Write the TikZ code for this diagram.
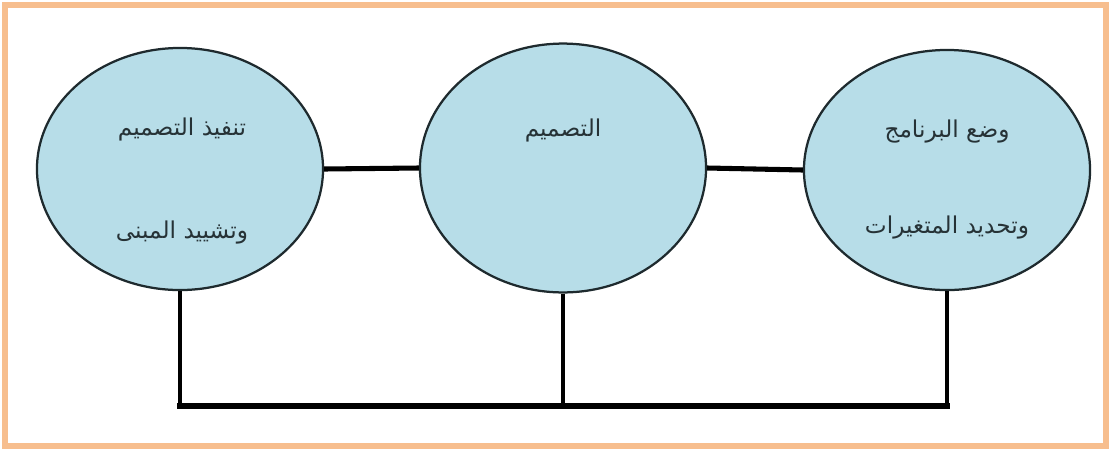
\documentclass[tikz,border=0pt]{standalone}
\usepackage{fontspec}
\newfontfamily\arabicfont[Script=Arabic]{DejaVu Sans}
\TeXXeTstate=1
\usepackage{tikz}
\usetikzlibrary{shapes.geometric}
\usetikzlibrary{positioning}
\definecolor{framebrd}{RGB}{247,190,142}
\definecolor{phasefill}{RGB}{183,221,232}
\definecolor{phasebrd}{RGB}{30,42,46}
\definecolor{phasetxt}{RGB}{38,50,54}

\begin{document}
\begin{tikzpicture}[x=0.025cm,y=-0.025cm,
  phase/.style={ellipse,draw=phasebrd,fill=phasefill,line width=1.6pt,minimum width=7.15cm,minimum height=6.05cm,inner sep=0pt},
  lbl/.style={font=\arabicfont\fontsize{16.5}{18}\selectfont,text=phasetxt,inner sep=1pt},
  link/.style={draw=black,line width=3.6pt},
  drop/.style={draw=black,line width=2.2pt},
  bus/.style={draw=black,line width=3.8pt,line cap=rect}]
\useasboundingbox (0,0) rectangle (1112,450);
\draw[fill=white,draw=framebrd,line width=4.8pt] (5,5) rectangle (1106,446);

\node[phase] (build) at (180,169) {};
\node[phase,minimum height=6.22cm] (design) at (563,168) {};
\node[phase,minimum height=6cm] (program) at (947,170) {};

\node[lbl] (buildA) at (182,129) {\beginR تنفيذ التصميم\endR};
\node[lbl] (buildB) at (182,233) {\beginR وتشييد المبنى\endR};
\node[lbl] (designA) at (563,130) {\beginR التصميم\endR};
\node[lbl] (programA) at (947,132) {\beginR وضع البرنامج\endR};
\node[lbl] (programB) at (947,228) {\beginR وتحديد المتغيرات\endR};

\draw[link] (build.east) -- (design.west);
\draw[link] (design.east) -- (program.west);

\coordinate (busmid) at (563,406);
\draw[drop] (build.south) -- (build.south |- busmid);
\draw[drop] (design.south) -- (busmid);
\draw[drop] (program.south) -- (program.south |- busmid);
\draw[bus] (build.south |- busmid) -- (program.south |- busmid);

\end{tikzpicture}
\end{document}
